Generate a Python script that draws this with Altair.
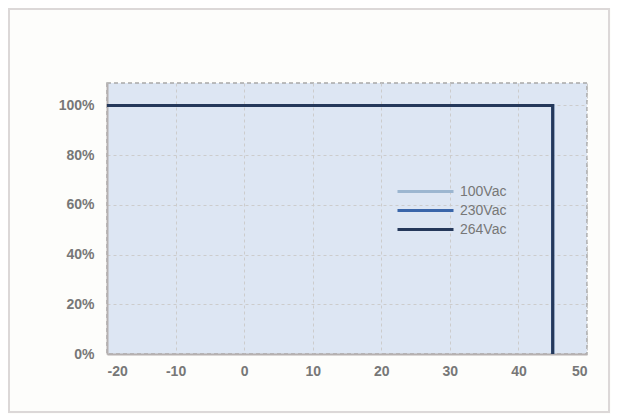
import altair as alt
import pandas as pd

series = ["100Vac", "230Vac", "264Vac"]
colors = ["#9cb6d0", "#3a66aa", "#25385a"]
temps = [-20, 45, 45]
loads = [1.0, 1.0, 0.0]

rows = []
for s in series:
    for i, (t, l) in enumerate(zip(temps, loads)):
        rows.append({"series": s, "temp": t, "load": l, "order": i})
df = pd.DataFrame(rows)

x_ticks = [-20, -10, 0, 10, 20, 30, 40, 50]
y_ticks = [0, 0.2, 0.4, 0.6, 0.8, 1.0]

W, H = 480, 271
font = "Liberation Sans Narrow, Liberation Sans, Arial, sans-serif"

lines = alt.Chart(df).mark_line(strokeWidth=3, clip=False).encode(
    x=alt.X("temp:Q", scale=alt.Scale(domain=[-20, 50], nice=False, zero=False),
            axis=alt.Axis(values=x_ticks, title=None, labelFontSize=14, labelColor="#777777",
                          labelFont=font, labelPadding=10, ticks=False, domainColor="#b5b0b0",
                          domainWidth=2, gridDash=[3, 3], gridColor="#cccccc", labelFontWeight="bold",
                          labelExpr="'' + datum.value")),
    y=alt.Y("load:Q", scale=alt.Scale(domain=[0, 1.09], nice=False),
            axis=alt.Axis(values=y_ticks, format=".0%", title=None, labelFontSize=14,
                          labelColor="#777777", labelFont=font, labelPadding=13, ticks=False,
                          domainColor="#b5b0b0", domainWidth=2, gridDash=[3, 3],
                          gridColor="#cccccc", labelFontWeight="bold")),
    color=alt.Color("series:N", scale=alt.Scale(domain=series, range=colors),
                    legend=alt.Legend(orient="none", legendX=310, legendY=100, title=None,
                                      symbolType="M-4,0H4", symbolSize=196, symbolStrokeWidth=3,
                                      labelOffset=26, rowPadding=3, padding=0,
                                      labelFontSize=14, labelColor="#777777", labelFont=font)),
    order="order:Q",
    detail="series:N",
)

frame_df = pd.DataFrame({"a": [0]})
frame = alt.Chart(frame_df).mark_rect(fill=None, stroke="#dcd8d8", strokeWidth=2, clip=False).encode(
    x=alt.value(-98), x2=alt.value(W + 22), y=alt.value(-74), y2=alt.value(H + 58)
)

chart = alt.layer(frame, lines).properties(
    width=W, height=H,
    autosize=alt.AutoSizeParams(type="none"),
    padding={"left": 99, "top": 75, "right": 24, "bottom": 60},
    background="#fdfdfb",
).configure_view(
    fill="#dde6f3", stroke="#a8a8a8", strokeDash=[4, 3], strokeWidth=1.5
)

chart.save("out.html", embed_options={"renderer": "svg", "actions": False})
